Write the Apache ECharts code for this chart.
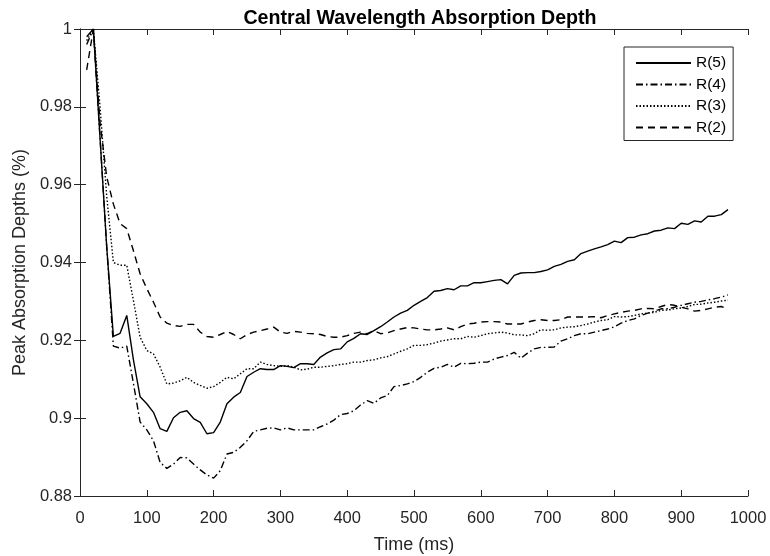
<!DOCTYPE html>
<html>
<head>
<meta charset="utf-8">
<script src="https://cdn.jsdelivr.net/npm/echarts@6/dist/echarts.min.js"></script>
<style>
html,body{margin:0;padding:0;background:#fff;}
#chart{width:770px;height:556px;}
</style>
</head>
<body>
<div id="chart"></div>
<script>
var timeMs = [10,20,30,40,50,60,70,80,90,100,110,120,130,140,150,160,170,180,190,200,210,220,230,240,250,260,270,280,290,300,310,320,330,340,350,360,370,380,390,400,410,420,430,440,450,460,470,480,490,500,510,520,530,540,550,560,570,580,590,600,610,620,630,640,650,660,670,680,690,700,710,720,730,740,750,760,770,780,790,800,810,820,830,840,850,860,870,880,890,900,910,920,930,940,950,960,970];

var r5 = [0.998,1.0,0.972,0.944,0.921,0.9218,0.9264,0.915,0.9055,0.9037,0.9015,0.8973,0.8966,0.9001,0.9015,0.9019,0.8999,0.8989,0.896,0.8963,0.899,0.9037,0.9054,0.9066,0.9107,0.9118,0.9127,0.9125,0.9125,0.9135,0.9133,0.913,0.914,0.914,0.9138,0.9157,0.9168,0.9176,0.9178,0.9196,0.9205,0.9217,0.9215,0.9225,0.9235,0.9247,0.926,0.927,0.9277,0.929,0.93,0.931,0.9326,0.9328,0.9333,0.933,0.934,0.934,0.9348,0.9348,0.9351,0.9354,0.9356,0.9345,0.9367,0.9373,0.9374,0.9374,0.9377,0.9381,0.939,0.9395,0.9403,0.9407,0.9423,0.9429,0.9435,0.944,0.9446,0.9455,0.9451,0.9464,0.9465,0.9471,0.9474,0.9481,0.9483,0.9489,0.9487,0.9501,0.9498,0.9507,0.9504,0.9519,0.9519,0.9523,0.9536];

var r4 = [0.996,1.0,0.972,0.944,0.9185,0.918,0.9185,0.9089,0.899,0.897,0.8942,0.8886,0.8871,0.8882,0.8899,0.8898,0.8882,0.8867,0.8854,0.8846,0.8865,0.8908,0.8912,0.8925,0.8942,0.8966,0.897,0.8974,0.8975,0.897,0.8975,0.897,0.897,0.897,0.897,0.8978,0.8985,0.8995,0.9009,0.9012,0.9019,0.9034,0.9045,0.9038,0.9052,0.9058,0.9081,0.9084,0.9088,0.9094,0.9105,0.9118,0.9128,0.9131,0.9138,0.9131,0.9141,0.914,0.9141,0.9144,0.9144,0.9152,0.9157,0.9161,0.9169,0.9154,0.9167,0.9178,0.9182,0.9182,0.9183,0.9198,0.9204,0.9212,0.9217,0.9217,0.9221,0.9225,0.9229,0.9235,0.9244,0.9251,0.9255,0.9264,0.927,0.9275,0.9281,0.9281,0.9285,0.929,0.9294,0.9298,0.93,0.9304,0.9307,0.9311,0.9317];

var r3 = [0.997,1.0,0.98,0.957,0.94,0.9393,0.9393,0.9302,0.9208,0.9174,0.9165,0.9131,0.9088,0.909,0.9096,0.9105,0.9092,0.9084,0.9077,0.9081,0.9092,0.9105,0.9101,0.9114,0.9127,0.9127,0.9144,0.9138,0.9135,0.9133,0.9135,0.9131,0.9124,0.9126,0.9131,0.9131,0.9133,0.9135,0.9138,0.914,0.9144,0.9144,0.9148,0.915,0.9155,0.9158,0.9165,0.9172,0.9178,0.9187,0.9187,0.9189,0.9193,0.9198,0.9201,0.9204,0.9204,0.921,0.9208,0.9212,0.9217,0.9219,0.9221,0.9219,0.9214,0.9214,0.9212,0.9217,0.9227,0.9226,0.9227,0.9232,0.9234,0.9235,0.9238,0.9242,0.9247,0.9251,0.9253,0.9261,0.926,0.9261,0.9264,0.9268,0.927,0.9272,0.9277,0.9278,0.9281,0.9283,0.9287,0.9292,0.9293,0.9296,0.9298,0.9301,0.9303];

var r2 = [0.9895,1.0,0.976,0.962,0.955,0.95,0.9487,0.943,0.9371,0.9333,0.9298,0.926,0.9244,0.9238,0.9236,0.9241,0.9241,0.9221,0.921,0.9208,0.9215,0.9223,0.9215,0.9204,0.9215,0.9221,0.9225,0.9229,0.9234,0.9221,0.9218,0.9223,0.9221,0.9218,0.9217,0.9215,0.921,0.9208,0.9208,0.9212,0.9218,0.9221,0.9217,0.9225,0.9217,0.9219,0.9225,0.9229,0.9233,0.9232,0.9229,0.9227,0.9227,0.9229,0.9232,0.9227,0.9235,0.9242,0.9244,0.9247,0.9248,0.9248,0.9247,0.9242,0.9242,0.9242,0.9247,0.9251,0.9253,0.9251,0.9251,0.9253,0.926,0.926,0.926,0.926,0.9261,0.9258,0.9264,0.9268,0.9272,0.9275,0.9277,0.9281,0.9282,0.9281,0.9287,0.9292,0.929,0.9285,0.9281,0.9275,0.9277,0.9281,0.9285,0.9287,0.9281];

var seriesNames = ['R(5)','R(4)','R(3)','R(2)'];
var titleText = 'Central Wavelength Absorption Depth';
var xName = 'Time (ms)';
var yName = 'Peak Absorption Depths (%)';

function pairs(ys){ return timeMs.map(function(t,i){ return [t, ys[i]]; }); }

var axisColor = '#262626';
var fontFam = '"Liberation Sans", Arial, Helvetica, sans-serif';

var chart = echarts.init(document.getElementById('chart'), null, {renderer:'canvas'});

function lineSeries(name, data, type){
  return {
    name: name, type: 'line', data: pairs(data),
    symbol: 'none', showSymbol: false, animation: false,
    lineStyle: {color: '#000', width: 1.4, type: type, cap: 'butt'},
    itemStyle: {color: '#000'},
    emphasis: {disabled: true}
  };
}

var option = {
  backgroundColor: '#fff',
  animation: false,
  textStyle: {fontFamily: fontFam},
  title: {
    text: titleText, left: 415, top: 4, textAlign: 'center',
    textStyle: {fontFamily: fontFam, fontSize: 19.6, fontWeight: 'bold', color: '#000'}
  },
  legend: {
    orient: 'vertical', left: 624, top: 47,
    itemWidth: 55, itemHeight: 14, itemGap: 5.5,
    padding: [8, 7, 5, 11],
    borderColor: axisColor, borderWidth: 1, backgroundColor: '#fff',
    itemStyle: {opacity: 0, borderWidth: 0},
    textStyle: {fontFamily: fontFam, fontSize: 15.5, color: '#000'},
    data: seriesNames
  },
  grid: {left: 80, right: 22, top: 29, bottom: 60, containLabel: false, outerBoundsMode: 'none'},
  xAxis: [{
    type: 'value', min: 0, max: 1000, interval: 100,
    name: xName, nameLocation: 'middle', nameGap: 40,
    nameTextStyle: {fontFamily: fontFam, fontSize: 18, color: axisColor},
    axisLine: {show: true, lineStyle: {color: axisColor, width: 1}},
    axisTick: {show: true, inside: true, length: 6, lineStyle: {color: axisColor}},
    axisLabel: {fontFamily: fontFam, fontSize: 16.5, color: axisColor, margin: 14,
      formatter: function(v){ return String(v); }},
    splitLine: {show: false}
  },{
    type: 'value', min: 0, max: 1000, interval: 100, position: 'top',
    axisLine: {show: true, lineStyle: {color: axisColor, width: 1}},
    axisTick: {show: true, inside: true, length: 6, lineStyle: {color: axisColor}},
    axisLabel: {show: false}, splitLine: {show: false}
  }],
  yAxis: [{
    type: 'value', min: 0.88, max: 1, interval: 0.02,
    name: yName, nameLocation: 'middle', nameGap: 51, nameRotate: 90,
    nameTextStyle: {fontFamily: fontFam, fontSize: 18, color: axisColor},
    axisLine: {show: true, lineStyle: {color: axisColor, width: 1}},
    axisTick: {show: true, inside: true, length: 6, lineStyle: {color: axisColor}},
    axisLabel: {fontFamily: fontFam, fontSize: 16.5, color: axisColor, margin: 8,
      padding: [4, 0, 0, 0],
      formatter: function(v){ return String(+v.toFixed(2)); }},
    splitLine: {show: false}
  },{
    type: 'value', min: 0.88, max: 1, interval: 0.02, position: 'right',
    axisLine: {show: true, lineStyle: {color: axisColor, width: 1}},
    axisTick: {show: true, inside: true, length: 6, lineStyle: {color: axisColor}},
    axisLabel: {show: false}, splitLine: {show: false}
  }],
  series: [
    lineSeries(seriesNames[0], r5, 'solid'),
    lineSeries(seriesNames[1], r4, [7, 3, 1.5, 3]),
    lineSeries(seriesNames[2], r3, [1.5, 2]),
    lineSeries(seriesNames[3], r2, [7, 5])
  ]
};
chart.setOption(option);
</script>
</body>
</html>
